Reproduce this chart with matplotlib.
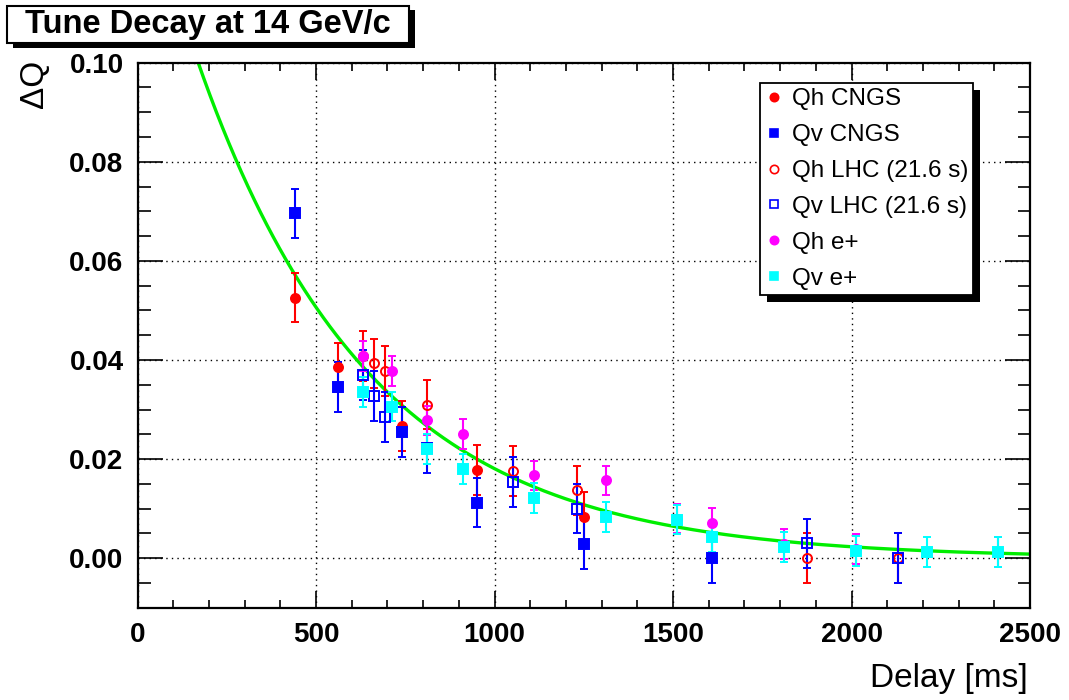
import numpy as np
import matplotlib
matplotlib.use("Agg")
import matplotlib.pyplot as plt
from matplotlib.patches import Rectangle
from matplotlib.lines import Line2D
from matplotlib.ticker import MultipleLocator

plt.rcParams["font.family"] = ["Liberation Sans", "DejaVu Sans"]

# measured tune shifts (delay in ms, delta Q, error)
qh_cngs_x = [442, 562, 742, 951, 1250]
qh_cngs_y = [0.0526, 0.0385, 0.0267, 0.0178, 0.0083]
qh_cngs_e = [0.005, 0.005, 0.005, 0.005, 0.005]

qv_cngs_x = [442, 562, 742, 951, 1250, 1610]
qv_cngs_y = [0.0696, 0.0345, 0.0255, 0.0112, 0.0028, 0.0]
qv_cngs_e = [0.005, 0.005, 0.005, 0.005, 0.005, 0.005]

qh_lhc_x = [632, 662, 692, 811, 1052, 1231, 1876, 2131]
qh_lhc_y = [0.0408, 0.0393, 0.0378, 0.031, 0.0176, 0.0137, 0.0, 0.0]
qh_lhc_e = [0.005] * 8

qv_lhc_x = [632, 662, 692, 811, 1052, 1231, 1876, 2131]
qv_lhc_y = [0.037, 0.0327, 0.0285, 0.0222, 0.0154, 0.010, 0.003, 0.0]
qv_lhc_e = [0.005] * 8

qh_ep_x = [632, 713, 811, 912, 1111, 1311, 1512, 1610, 1811, 2012, 2411]
qh_ep_y = [0.0408, 0.0378, 0.0278, 0.0251, 0.0167, 0.0157, 0.008, 0.0071, 0.0029, 0.0019, 0.0012]
qh_ep_e = [0.003] * 11

qv_ep_x = [632, 713, 811, 912, 1111, 1311, 1512, 1610, 1811, 2012, 2212, 2411]
qv_ep_y = [0.0335, 0.0306, 0.022, 0.018, 0.0122, 0.0083, 0.0078, 0.0043, 0.0022, 0.0014, 0.0012, 0.0013]
qv_ep_e = [0.003] * 12

# exponential fit parameters
fit_amp = 0.142
fit_tau = 485.0
fit_range = (150, 2500)

W, H = 1069, 700
fig = plt.figure(figsize=(W / 100, H / 100), dpi=100)
ax = fig.add_axes([137.5 / W, 1 - 607.7 / H, (1030 - 137.5) / W, (607.7 - 62.7) / H])

xf = np.linspace(fit_range[0], fit_range[1], 400)
ax.plot(xf, fit_amp * np.exp(-xf / fit_tau), color="#00ee00", lw=2.4, zorder=2)

series = [
    (qh_cngs_x, qh_cngs_y, qh_cngs_e, "#ff0000", "o", True, "Qh CNGS"),
    (qv_cngs_x, qv_cngs_y, qv_cngs_e, "#0000ff", "s", True, "Qv CNGS"),
    (qh_lhc_x, qh_lhc_y, qh_lhc_e, "#ff0000", "o", False, "Qh LHC (21.6 s)"),
    (qv_lhc_x, qv_lhc_y, qv_lhc_e, "#0000ff", "s", False, "Qv LHC (21.6 s)"),
    (qh_ep_x, qh_ep_y, qh_ep_e, "#ff00ff", "o", True, "Qh e+"),
    (qv_ep_x, qv_ep_y, qv_ep_e, "#00ffff", "s", True, "Qv e+"),
]

handles = []
for x, y, e, col, mk, filled, lab in series:
    ax.errorbar(x, y, yerr=e, fmt=mk, color=col, ecolor=col, elinewidth=1.5,
                capsize=3.2, capthick=1.5, ms=6.5,
                mfc=col if filled else "none", mec=col, mew=1.4, zorder=3)
    handles.append(Line2D([], [], ls="none", marker=mk, color=col, ms=6,
                          mfc=col if filled else "none", mec=col, mew=1.2))

ax.set_xlim(0, 2500)
ax.set_ylim(-0.01, 0.10)
ax.xaxis.set_major_locator(MultipleLocator(500))
ax.xaxis.set_minor_locator(MultipleLocator(100))
ax.yaxis.set_minor_locator(MultipleLocator(0.005))
ax.set_yticks([0.0, 0.02, 0.04, 0.06, 0.08, 0.10])
ax.set_yticklabels(["0.00", "0.02", "0.04", "0.06", "0.08", "0.10"])
ax.tick_params(which="both", direction="in", top=True, right=True, width=1.2)
ax.tick_params(axis="x", which="major", length=12, pad=10)
ax.tick_params(axis="x", which="minor", length=6)
ax.tick_params(axis="y", which="major", length=18, pad=10)
ax.tick_params(axis="y", which="minor", length=9)
for lab in ax.get_xticklabels() + ax.get_yticklabels():
    lab.set_fontweight("bold")
    lab.set_fontsize(20)
for sp in ax.spines.values():
    sp.set_linewidth(1.6)
ax.grid(True, which="major", color="black", ls=(0, (1, 3)), lw=1.0)

fig.text(1028 / W, 1 - 678 / H, "Delay [ms]", ha="right", va="center", fontsize=24)
fig.text(35 / W, 1 - 84 / H, "\u0394Q", ha="center", va="center", rotation=90, fontsize=24)

# title box with shadow
fig.patches.append(Rectangle((13 / W, 1 - 48 / H), 402 / W, 38 / H, transform=fig.transFigure,
                             facecolor="black", edgecolor="none", zorder=1))
fig.patches.append(Rectangle((7 / W, 1 - 43 / H), 402 / W, 37 / H, transform=fig.transFigure,
                             facecolor="white", edgecolor="black", lw=1.5, zorder=2))
fig.text(208 / W, 1 - 25 / H, "Tune Decay at 14 GeV/c", ha="center", va="center",
         fontsize=23.5, fontweight="bold", zorder=3)

# legend, shadow placed from its drawn extent
leg = ax.legend(handles, [s[6] for s in series], loc="upper left",
                bbox_to_anchor=(760 / W, 1 - 83 / H), bbox_transform=fig.transFigure,
                fontsize=17.5, frameon=True, fancybox=False, borderpad=0.22,
                labelspacing=0.57, handlelength=0.7, handletextpad=0.38,
                borderaxespad=0)
leg.get_frame().set_edgecolor("black")
leg.get_frame().set_linewidth(1.3)
leg.get_frame().set_alpha(1)
leg.set_zorder(5)

fig.canvas.draw()
bb = leg.get_window_extent()
ax.add_patch(Rectangle(((bb.x0 + 7) / W, (bb.y0 - 7) / H), bb.width / W, bb.height / H,
                       transform=fig.transFigure, facecolor="black", edgecolor="none",
                       zorder=4, clip_on=False))

fig.savefig("out.png", dpi=100)
